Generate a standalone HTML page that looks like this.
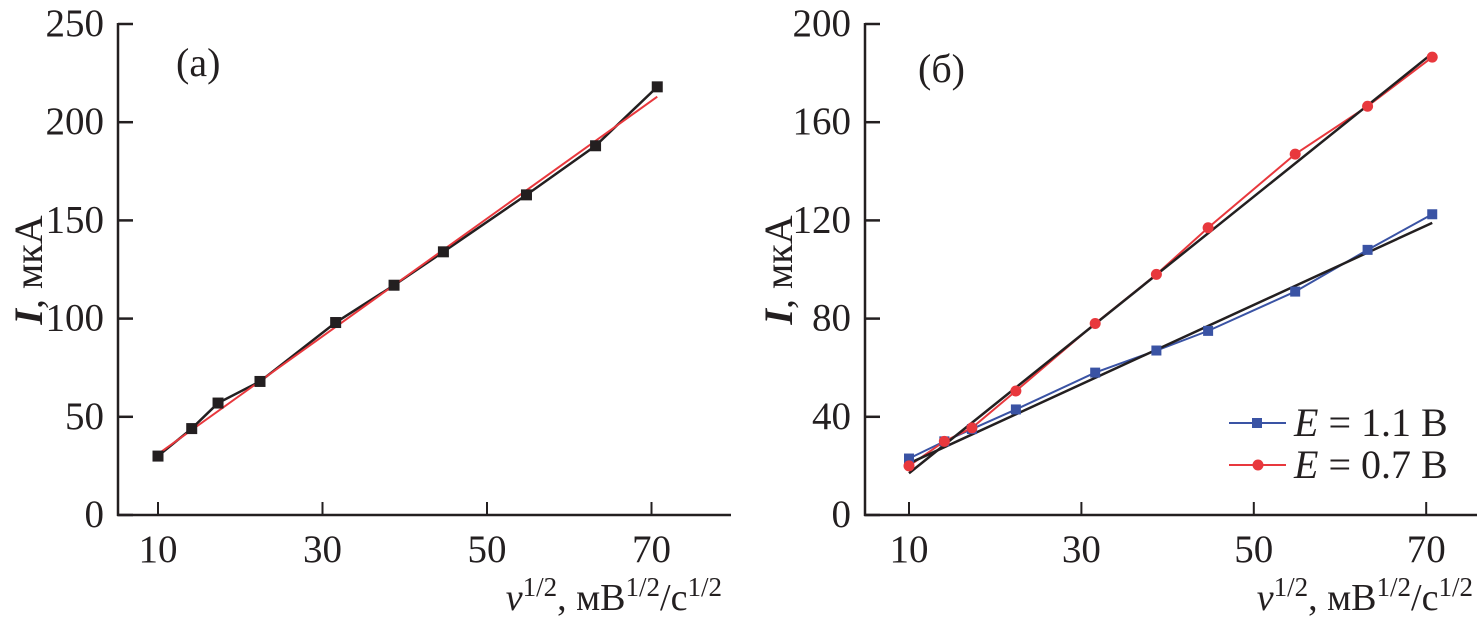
<!DOCTYPE html>
<html><head><meta charset="utf-8"><style>
html,body{margin:0;padding:0;background:#fff;}
svg{display:block;font-family:"Liberation Serif",serif;}
</style></head><body>
<svg id="chart" width="1477" height="618" viewBox="0 0 1477 618"></svg>
<script>
const xVals=[10,14.1,17.3,22.4,31.6,38.7,44.7,54.8,63.2,70.7];
const aVals=[30,44,57,68,98,117,134,163,188,218];
const aFit=[31,213];
const bBlue=[23,30,35,43,58,67,75,91,108,122.5];
const bRed=[20,30,35.5,50.5,78,98,117,147,166.5,186.5];
const blueFit=[21,119];
const redFit=[17,188];
const aYTicks=[0,50,100,150,200,250];
const bYTicks=[0,40,80,120,160,200];
const xTicks=[10,30,50,70];
const fitX=[10,70.7];

const NS="http://www.w3.org/2000/svg";
const svg=document.getElementById('chart');
function el(tag,attrs,parent){const e=document.createElementNS(NS,tag);for(const k in attrs)e.setAttribute(k,attrs[k]);(parent||svg).appendChild(e);return e;}

const axA=v=>158+(v-10)*8.225;
const ayA=v=>515-v*1.964;
const axB=v=>909+(v-10)*8.62;
const ayB=v=>515-v*2.455;

function panel(name,x0,x1,ax,ay,yTicks,label,lx,ly){
  const g=el('g',{});
  
  
  const yA=el('line',{x1:x0,y1:ay(yTicks[yTicks.length-1])-1,x2:x0,y2:516,stroke:'#231f20','stroke-width':2.5},g);
  
  
  const xA=el('line',{x1:x0-1,y1:515,x2:x1,y2:515,stroke:'#231f20','stroke-width':2.5},g);
  
  
  yTicks.forEach(t=>{
    el('line',{x1:x0,y1:ay(t),x2:x0+15,y2:ay(t),stroke:'#231f20','stroke-width':2.5},g);
    const tx=el('text',{x:x0-14,y:ay(t)+12,'text-anchor':'end','font-size':39,fill:'#231f20'},g);
    tx.textContent=t;
    
    
  });
  xTicks.forEach(t=>{
    el('line',{x1:ax(t),y1:515,x2:ax(t),y2:502,stroke:'#231f20','stroke-width':2},g);
    const tx=el('text',{x:ax(t),y:562,'text-anchor':'middle','font-size':39,fill:'#231f20'},g);
    tx.textContent=t;
    
    
  });
  const pl=el('text',{x:lx,y:ly,'font-size':40,fill:'#231f20'},g);
  pl.textContent=label;
  
  
  return g;
}
function yTitle(x,name){
  const t=el('text',{transform:`translate(${x},270) rotate(-90)`,'text-anchor':'middle','font-size':40,fill:'#231f20'});
  t.innerHTML='<tspan font-style="italic" font-weight="bold">I</tspan>, мкА';
  
  
}
function xTitle(x,name){
  const t=el('text',{x:x,y:610,'text-anchor':'end','font-size':38,fill:'#231f20'});
  t.innerHTML='<tspan font-style="italic">v</tspan><tspan dy="-14" font-size="27">1/2</tspan><tspan dy="14">, мВ</tspan><tspan dy="-14" font-size="27">1/2</tspan><tspan dy="14">/с</tspan><tspan dy="-14" font-size="27">1/2</tspan>';
  
  
}
function poly(xs,ys,ax,ay,color,w,name){
  const p=el('polyline',{points:xs.map((x,i)=>ax(x)+','+ay(ys[i])).join(' '),fill:'none',stroke:color,'stroke-width':w});
  
  
}
function squares(xs,ys,ax,ay,color,s,name){
  xs.forEach((x,i)=>{
    const r=el('rect',{x:ax(x)-s/2,y:ay(ys[i])-s/2,width:s,height:s,fill:color});
    
    
  });
}
function circles(xs,ys,ax,ay,color,r0,name){
  xs.forEach((x,i)=>{
    const c=el('circle',{cx:ax(x),cy:ay(ys[i]),r:r0,fill:color});
    
    
  });
}

panel('panel-a',118,731,axA,ayA,aYTicks,'(a)',176,76);
yTitle(42,'y-axis-title-a');
xTitle(722,'x-axis-title-a');
poly(xVals,aVals,axA,ayA,'#231f20',2.5,'series-a-line');
poly(fitX,aFit,axA,ayA,'#e8383d',2,'fit-line-a');
squares(xVals,aVals,axA,ayA,'#231f20',11,'point-a');

panel('panel-b',865,1477,axB,ayB,bYTicks,'(б)',918,82);
yTitle(792,'y-axis-title-b');
xTitle(1473,'x-axis-title-b');
poly(xVals,bBlue,axB,ayB,'#3a53a4',2,'series-blue-line');
poly(xVals,bRed,axB,ayB,'#e8383d',2,'series-red-line');
poly(fitX,blueFit,axB,ayB,'#231f20',2.5,'fit-line-blue');
poly(fitX,redFit,axB,ayB,'#231f20',2.5,'fit-line-red');
squares(xVals,bBlue,axB,ayB,'#3a53a4',10,'point-blue');
circles(xVals,bRed,axB,ayB,'#e8383d',5.5,'point-red');

const lg=el('g',{});


el('line',{x1:1229,y1:423,x2:1286,y2:423,stroke:'#3a53a4','stroke-width':2},lg);
el('rect',{x:1252,y:418,width:10,height:10,fill:'#3a53a4'},lg);
el('line',{x1:1229,y1:465,x2:1286,y2:465,stroke:'#e8383d','stroke-width':2},lg);
el('circle',{cx:1258,cy:465,r:5.5,fill:'#e8383d'},lg);
const l1=el('text',{x:1294,y:436,'font-size':40,fill:'#231f20'},lg);
l1.innerHTML='<tspan font-style="italic">E</tspan> = 1.1 В';


const l2=el('text',{x:1294,y:478,'font-size':40,fill:'#231f20'},lg);
l2.innerHTML='<tspan font-style="italic">E</tspan> = 0.7 В';


</script>
</body></html>
